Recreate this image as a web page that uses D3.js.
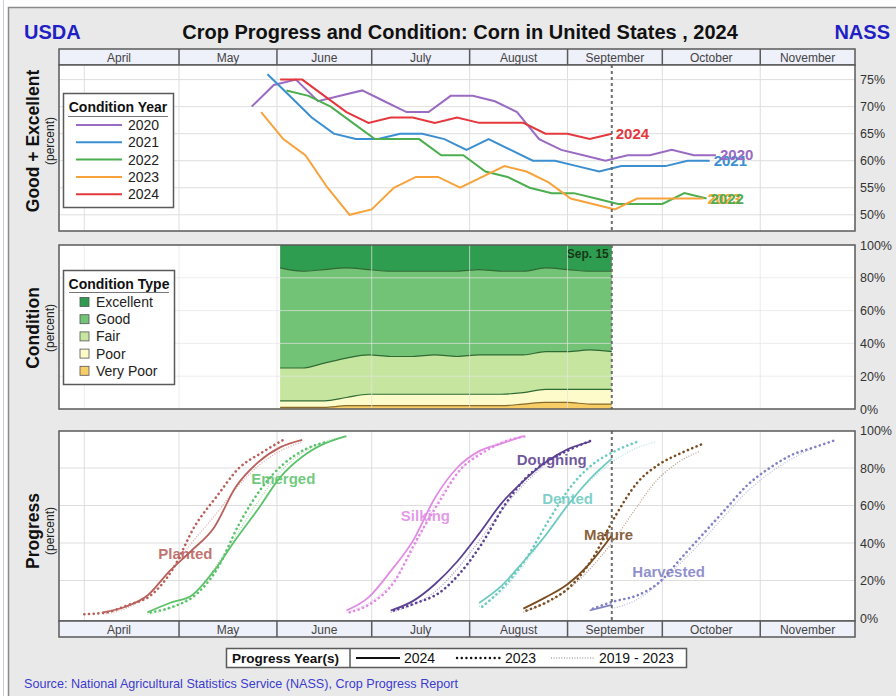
<!DOCTYPE html>
<html>
<head>
<meta charset="utf-8">
<script src="https://cdn.jsdelivr.net/npm/d3@7"></script>
<style>
  body { margin: 0; background: #fff; }
  text { font-family: "Liberation Sans", Arial, sans-serif; }
</style>
</head>
<body>
<svg id="chart" width="896" height="696"></svg>
<script>
/* Crop progress and condition: corn, 2024 */

// ---- data ----
var months      = ["April", "May", "June", "July", "August", "September", "October", "November"];
var monthStarts = ["2024-04-01", "2024-05-01", "2024-06-01", "2024-07-01", "2024-08-01", "2024-09-01", "2024-10-01", "2024-11-01"];

// good + excellent, weekly, from the first rating week of each year
var condYears     = ["2020", "2021", "2022", "2023", "2024"];
var condFirstWeek = ["2020-05-24", "2021-05-30", "2022-06-05", "2023-05-28", "2024-06-02"];
var ge2020 = [70, 74, 75, 71, 72, 73, 71, 69, 69, 72, 72, 71, 69, 64, 62, 61, 60, 61, 61, 62, 61, 61];
var ge2021 = [76, 72, 68, 65, 64, 64, 65, 65, 64, 62, 64, 62, 60, 60, 59, 58, 59, 59, 59, 60, 60];
var ge2022 = [73, 72, 70, 67, 64, 64, 64, 61, 61, 58, 57, 55, 54, 54, 53, 52, 52, 52, 54, 53];
var ge2023 = [69, 64, 61, 55, 50, 51, 55, 57, 57, 55, 57, 59, 58, 56, 53, 52, 51, 53, 53, 53, 53];
var ge2024 = [75, 75, 72, 69, 67, 68, 68, 67, 68, 67, 67, 67, 65, 65, 64, 65];

// 2024 condition by type (percent), weekly from 2024-06-02
var condTypes = ["Excellent", "Good", "Fair", "Poor", "Very Poor"];
var excellent = [14, 16, 15, 14, 15, 16, 16, 16, 16, 15, 16, 16, 14, 15, 16, 16];
var good      = [61, 59, 57, 55, 52, 52, 52, 51, 52, 52, 51, 51, 51, 50, 48, 49];
var fair      = [20, 20, 23, 24, 24, 23, 23, 24, 23, 24, 24, 23, 23, 23, 24, 23];
var poor      = [4, 4, 4, 5, 7, 7, 7, 7, 7, 7, 7, 7, 8, 8, 9, 9];
var veryPoor  = [1, 1, 1, 2, 2, 2, 2, 2, 2, 2, 2, 3, 4, 4, 3, 3];

// progress stages, weekly percent complete
var stages     = ["Planted", "Emerged", "Silking", "Doughing", "Dented", "Mature", "Harvested"];
var start2024  = ["2024-04-07", "2024-04-21", "2024-06-23", "2024-07-07", "2024-08-04", "2024-08-18", "2024-09-08"];
var start2023  = ["2023-04-02", "2023-04-23", "2023-06-25", "2023-07-09", "2023-08-06", "2023-08-20", "2023-09-10"];
var startAvg   = ["2024-04-07", "2024-04-21", "2024-06-23", "2024-07-07", "2024-08-04", "2024-08-18", "2024-09-15"];
var prog2024 = [
  [3, 6, 12, 25, 36, 48, 70, 83, 91, 95],
  [3, 8, 12, 25, 42, 58, 75, 86, 93, 97],
  [4, 11, 25, 41, 64, 80, 89, 93, 97],
  [4, 9, 18, 30, 45, 61, 73, 83, 90, 94],
  [8, 17, 30, 44, 60, 74, 85],
  [5, 11, 18, 29, 44],
  [4, 7]
];
var prog2023 = [
  [2, 3, 7, 12, 26, 49, 65, 80, 88, 95],
  [3, 6, 12, 26, 50, 69, 82, 90, 94],
  [3, 8, 19, 41, 61, 79, 88, 94, 97],
  [4, 8, 13, 24, 40, 60, 75, 84, 90, 95],
  [6, 17, 32, 52, 70, 82, 89, 94],
  [4, 9, 17, 32, 54, 72, 82, 88, 93],
  [5, 9, 12, 19, 32, 45, 58, 71, 80, 87, 91, 95]
];
var progAvg = [
  [2, 5, 12, 25, 40, 54, 69, 81, 89, 94],
  [2, 5, 12, 26, 44, 62, 78, 88, 94, 97],
  [3, 8, 18, 36, 60, 77, 88, 94, 97],
  [3, 7, 14, 26, 41, 57, 71, 82, 90, 94],
  [6, 14, 28, 44, 60, 73, 83, 90, 94],
  [3, 8, 15, 26, 40, 57, 73, 83, 89],
  [5, 9, 17, 28, 40, 53, 66, 76, 84, 90]
];
var progYears = ["2024", "2023", "2019 - 2023"];

// ---- styles / layout ----
var yearColors  = ["#9a6bc2", "#3b8fd1", "#4cae4f", "#f8a23b", "#e4383e"];
var typeColors  = ["#2f9d50", "#72c375", "#c6e69f", "#fdfbc9", "#f7cd66"];
var stageColors = ["#b9605b", "#5cc26a", "#e08ce3", "#5c4192", "#6ccac1", "#7a4c20", "#8181c6"];
// label anchors (date, percent) for the stage names
var stageLabelAt = [["2024-05-03", 31.5], ["2024-06-03", 71.5], ["2024-07-18", 52], ["2024-08-27", 81.6],
                    ["2024-09-01", 61], ["2024-09-14", 41.6], ["2024-10-03", 22]];

var parseDate = d3.timeParse("%Y-%m-%d");
var L = 59, R = 855;
var grid = "#dedede", frame = "#5a5a5a";

var x = d3.scaleTime()
          .domain([parseDate("2024-03-24"), parseDate("2024-12-01")])
          .range([L, R]);
var sep15 = parseDate("2024-09-15");

// put a week of another year on the 2024 calendar (same day of year)
function onSeason(d){
    var doy = d3.timeDay.count(d3.timeYear(d), d);
    return d3.timeDay.offset(new Date(2024, 0, 1), doy);
}
function weekly(start, values){
    var d0 = onSeason(parseDate(start));
    return values.map(function(v, i){ return {date: d3.timeDay.offset(d0, 7 * i), value: v}; });
}

var svg = d3.select("#chart");

// page + frame
svg.append("rect").attr("width", 896).attr("height", 696).attr("fill", "#fff");
svg.append("line").attr("x1", 3.5).attr("x2", 3.5).attr("y1", 0).attr("y2", 696)
   .attr("stroke", "#c9cfe0").attr("stroke-width", 1);
svg.append("rect").attr("x", 8.5).attr("y", 7.5).attr("width", 900).attr("height", 700)
   .attr("fill", "#e9e9e9").attr("stroke", "#8a8a8a").attr("stroke-width", 1.5);

// titles
svg.append("text").attr("x", 24).attr("y", 39).attr("fill", "#1f1fc6")
   .style("font-size", "20px").style("font-weight", "bold").text("USDA");
svg.append("text").attr("x", 890).attr("y", 39).attr("fill", "#1f1fc6").attr("text-anchor", "end")
   .style("font-size", "20px").style("font-weight", "bold").text("NASS");
svg.append("text").attr("x", 460).attr("y", 39).attr("text-anchor", "middle").attr("fill", "#111")
   .style("font-size", "20px").style("font-weight", "bold")
   .text("Crop Progress and Condition: Corn in United States , 2024");

var monthEdges = [x.domain()[0]].concat(monthStarts.slice(1).map(parseDate), [x.domain()[1]]);

function monthHeader(top){
    var g = svg.append("g");
    g.append("rect").attr("x", L).attr("y", top).attr("width", R - L).attr("height", 16)
     .attr("fill", "#eef0fa").attr("stroke", frame).attr("stroke-width", 1.5);
    g.selectAll(".div").data(monthEdges.slice(1, -1)).enter().append("line")
     .attr("x1", function(d){ return x(d); }).attr("x2", function(d){ return x(d); })
     .attr("y1", top).attr("y2", top + 16).attr("stroke", frame).attr("stroke-width", 1.5);
    g.selectAll(".mlab").data(months).enter().append("text")
     .attr("x", function(d, i){ return (x(monthEdges[i]) + x(monthEdges[i + 1])) / 2; })
     .attr("y", top + 12.5).attr("text-anchor", "middle").attr("fill", "#444")
     .style("font-size", "12px").text(function(d){ return d; });
}

function panel(top, bottom, y, ticks, fmtTicks, gridOnTop){
    var g = svg.append("g");
    g.append("rect").attr("x", L).attr("y", top).attr("width", R - L).attr("height", bottom - top).attr("fill", "#fff");
    var layer = g.append("g");          // data goes here
    var gg = gridOnTop ? g.append("g") : g.insert("g", function(){ return layer.node(); });
    gg.selectAll(".v").data(monthStarts.map(parseDate)).enter().append("line")
      .attr("x1", function(d){ return x(d); }).attr("x2", function(d){ return x(d); })
      .attr("y1", top).attr("y2", bottom)
      .attr("stroke", gridOnTop ? "#e4e4e4" : grid).attr("stroke-opacity", gridOnTop ? 0.7 : 1);
    gg.selectAll(".h").data(ticks).enter().append("line")
      .attr("x1", L).attr("x2", R)
      .attr("y1", function(d){ return y(d); }).attr("y2", function(d){ return y(d); })
      .attr("stroke", gridOnTop ? "#e4e4e4" : grid).attr("stroke-opacity", gridOnTop ? 0.7 : 1);
    var over = g.append("g");
    over.append("line").attr("x1", x(sep15)).attr("x2", x(sep15)).attr("y1", top).attr("y2", bottom)
        .attr("stroke", "#6e6e6e").attr("stroke-width", 2).attr("stroke-dasharray", "3,3");
    over.append("rect").attr("x", L).attr("y", top).attr("width", R - L).attr("height", bottom - top)
        .attr("fill", "none").attr("stroke", frame).attr("stroke-width", 1.5);
    // right-hand percent axis
    var ax = svg.append("g").attr("transform", "translate(" + R + ",0)")
                .call(d3.axisRight(y).tickValues(fmtTicks).tickSize(0).tickPadding(5)
                       .tickFormat(function(d){ return d + "%"; }));
    ax.select(".domain").remove();
    ax.selectAll("text").attr("fill", "#333").style("font-size", "12.5px")
      .style("font-family", "'Liberation Sans', Arial, sans-serif");
    return layer;
}

function yTitle(cx, cy, main, sub){
    svg.append("text").attr("transform", "translate(" + (cx + 6) + "," + cy + ") rotate(-90)")
       .attr("text-anchor", "middle").attr("fill", "#111")
       .style("font-size", "17.5px").style("font-weight", "bold").text(main);
    svg.append("text").attr("transform", "translate(" + (cx + 21) + "," + cy + ") rotate(-90)")
       .attr("text-anchor", "middle").attr("fill", "#222")
       .style("font-size", "12px").text(sub);
}

// ---------- top: good + excellent ----------
var yTop = d3.scaleLinear().domain([47, 77.7]).range([231, 65]);
monthHeader(49);
var topLayer = panel(65, 231, yTop, [50, 55, 60, 65, 70, 75], [50, 55, 60, 65, 70, 75], false);
yTitle(33, 141, "Good + Excellent", "(percent)");

var geSeries = [ge2020, ge2021, ge2022, ge2023, ge2024].map(function(vals, i){
    return weekly(condFirstWeek[i], vals);
});
var geLine = d3.line().x(function(d){ return x(d.date); }).y(function(d){ return yTop(d.value); });

topLayer.selectAll(".ge").data(geSeries).enter().append("path")
    .attr("d", geLine).attr("fill", "none")
    .attr("stroke", function(d, i){ return yearColors[i]; }).attr("stroke-width", 2);

// end-of-line year labels (drawn last year first)
topLayer.selectAll(".gelab").data(geSeries.slice().reverse()).enter().append("text")
    .attr("x", function(d){ return x(d[d.length - 1].date) + 4; })
    .attr("y", function(d){ return yTop(d[d.length - 1].value) + 5; })
    .attr("fill", function(d, i){ return yearColors[4 - i]; })
    .style("font-size", "15px").style("font-weight", "bold")
    .text(function(d, i){ return condYears[4 - i]; });

// legend: condition year
var lg1 = svg.append("g");
lg1.append("rect").attr("x", 63.5).attr("y", 93.5).attr("width", 110).attr("height", 114)
   .attr("fill", "#fff").attr("stroke", frame).attr("stroke-width", 1.5);
lg1.append("text").attr("x", 118).attr("y", 112).attr("text-anchor", "middle").attr("fill", "#111")
   .style("font-size", "14px").style("font-weight", "bold").text("Condition Year");
lg1.append("line").attr("x1", 68).attr("x2", 168).attr("y1", 116.5).attr("y2", 116.5).attr("stroke", "#777");
var lg1e = lg1.selectAll(".e").data(condYears).enter().append("g")
   .attr("transform", function(d, i){ return "translate(0," + (125 + i * 17.3) + ")"; });
lg1e.append("line").attr("x1", 76).attr("x2", 122).attr("stroke-width", 2)
    .attr("stroke", function(d, i){ return yearColors[i]; });
lg1e.append("text").attr("x", 128).attr("y", 5).attr("fill", "#222").style("font-size", "14px")
    .text(function(d){ return d; });

// ---------- middle: condition by type ----------
var yMid = d3.scaleLinear().domain([0, 100]).range([409, 245]);
var midLayer = panel(245, 409, yMid, [20, 40, 60, 80], [0, 20, 40, 60, 80, 100], true);
yTitle(33, 328, "Condition", "(percent)");

var condDates = weekly(condFirstWeek[4], ge2024).map(function(d){ return d.date; });
var condTable = condDates.map(function(d, i){
    return {date: d, "Excellent": excellent[i], "Good": good[i], "Fair": fair[i],
            "Poor": poor[i], "Very Poor": veryPoor[i]};
});
var stackKeys = condTypes.slice().reverse();
var stacked = d3.stack().keys(stackKeys)(condTable);
var area = d3.area().curve(d3.curveMonotoneX)
    .x(function(d){ return x(d.data.date); })
    .y0(function(d){ return yMid(d[0]); }).y1(function(d){ return yMid(d[1]); });
var topEdge = d3.line().curve(d3.curveMonotoneX)
    .x(function(d){ return x(d.data.date); }).y(function(d){ return yMid(d[1]); });

midLayer.selectAll(".layer").data(stacked).enter().append("path")
    .attr("d", area).attr("stroke", "none")
    .attr("fill", function(d){ return typeColors[condTypes.indexOf(d.key)]; });
midLayer.selectAll(".edge").data(stacked.slice(0, -1)).enter().append("path")
    .attr("d", topEdge).attr("fill", "none")
    .attr("stroke", function(d){ return d.key === "Very Poor" ? "#8a6a2a" : "#2f6a33"; })
    .attr("stroke-width", 1.2);
midLayer.append("text").attr("x", x(sep15) - 3).attr("y", 258).attr("text-anchor", "end")
    .attr("fill", "#173817").style("font-size", "12px").style("font-weight", "bold").text("Sep. 15");

// legend: condition type
var lg2 = svg.append("g");
lg2.append("rect").attr("x", 63.5).attr("y", 270.5).attr("width", 111).attr("height", 114)
   .attr("fill", "#fff").attr("stroke", frame).attr("stroke-width", 1.5);
lg2.append("text").attr("x", 119).attr("y", 289).attr("text-anchor", "middle").attr("fill", "#111")
   .style("font-size", "14px").style("font-weight", "bold").text("Condition Type");
lg2.append("line").attr("x1", 69).attr("x2", 169).attr("y1", 292.5).attr("y2", 292.5).attr("stroke", "#777");
var lg2e = lg2.selectAll(".e").data(condTypes).enter().append("g")
   .attr("transform", function(d, i){ return "translate(0," + (302 + i * 17.2) + ")"; });
lg2e.append("rect").attr("x", 80).attr("y", -4.5).attr("width", 9).attr("height", 9)
    .attr("stroke", "#555").attr("stroke-width", 0.8)
    .attr("fill", function(d, i){ return typeColors[i]; });
lg2e.append("text").attr("x", 96).attr("y", 5).attr("fill", "#222").style("font-size", "14px")
    .text(function(d){ return d; });

// ---------- bottom: progress ----------
var yBot = d3.scaleLinear().domain([0, 100]).range([618, 430.5]);
var botLayer = panel(431, 621, yBot, [20, 40, 60, 80], [0, 20, 40, 60, 80, 100], false);
monthHeader(621);
yTitle(33, 531, "Progress", "(percent)");

var progLine = d3.line().curve(d3.curveMonotoneX)
    .x(function(d){ return x(d.date); }).y(function(d){ return yBot(d.value); });

// stage names under the curves
botLayer.selectAll(".slab").data(stages).enter().append("text")
    .attr("x", function(d, i){ return x(parseDate(stageLabelAt[i][0])); })
    .attr("y", function(d, i){ return yBot(stageLabelAt[i][1]); })
    .attr("text-anchor", "middle").attr("fill-opacity", 0.88)
    .attr("fill", function(d, i){ return stageColors[i]; })
    .style("font-size", "15px").style("font-weight", "bold")
    .text(function(d){ return d; });

stages.forEach(function(s, i){
    var g = botLayer.append("g").attr("class", "stage");
    g.append("path").datum(weekly(startAvg[i], progAvg[i])).attr("d", progLine)
     .attr("fill", "none").attr("stroke", stageColors[i]).attr("stroke-opacity", 0.55)
     .attr("stroke-width", 1.2).attr("stroke-dasharray", "1,1.6");
    g.append("path").datum(weekly(start2023[i], prog2023[i])).attr("d", progLine)
     .attr("fill", "none").attr("stroke", stageColors[i]).attr("stroke-width", 2.6)
     .attr("stroke-linecap", "round").attr("stroke-dasharray", "0.1,4.6");
    g.append("path").datum(weekly(start2024[i], prog2024[i])).attr("d", progLine)
     .attr("fill", "none").attr("stroke", stageColors[i]).attr("stroke-width", 1.8);
});

// legend: progress years
var lg3 = svg.append("g");
lg3.append("rect").attr("x", 226.5).attr("y", 648.5).attr("width", 460).attr("height", 19)
   .attr("fill", "#fff").attr("stroke", frame).attr("stroke-width", 1.5);
lg3.append("text").attr("x", 232).attr("y", 663).attr("fill", "#111")
   .style("font-size", "13.5px").style("font-weight", "bold").text("Progress Year(s)");
lg3.append("line").attr("x1", 350).attr("x2", 350).attr("y1", 648.5).attr("y2", 667.5)
   .attr("stroke", frame).attr("stroke-width", 1.5);
var lgX = [356, 457, 551];
var lg3e = lg3.selectAll(".e").data(progYears).enter().append("g");
lg3e.append("line").attr("x1", function(d, i){ return lgX[i]; })
    .attr("x2", function(d, i){ return lgX[i] + 44; })
    .attr("y1", 658).attr("y2", 658).attr("stroke", "#111")
    .attr("stroke-width", function(d, i){ return [2, 2.4, 1][i]; })
    .attr("stroke-opacity", function(d, i){ return i === 2 ? 0.55 : 1; })
    .attr("stroke-linecap", function(d, i){ return i === 1 ? "round" : "butt"; })
    .attr("stroke-dasharray", function(d, i){ return [null, "0.1,4.6", "1,1.6"][i]; });
lg3e.append("text")
    .attr("x", function(d, i){ return lgX[i] + 48; }).attr("y", 663)
    .attr("fill", "#111").style("font-size", "14px").text(function(d){ return d; });

svg.append("text").attr("x", 24).attr("y", 688).attr("fill", "#3b3bd0")
   .style("font-size", "12.6px").text("Source: National Agricultural Statistics Service (NASS), Crop Progress Report");
</script>
</body>
</html>
